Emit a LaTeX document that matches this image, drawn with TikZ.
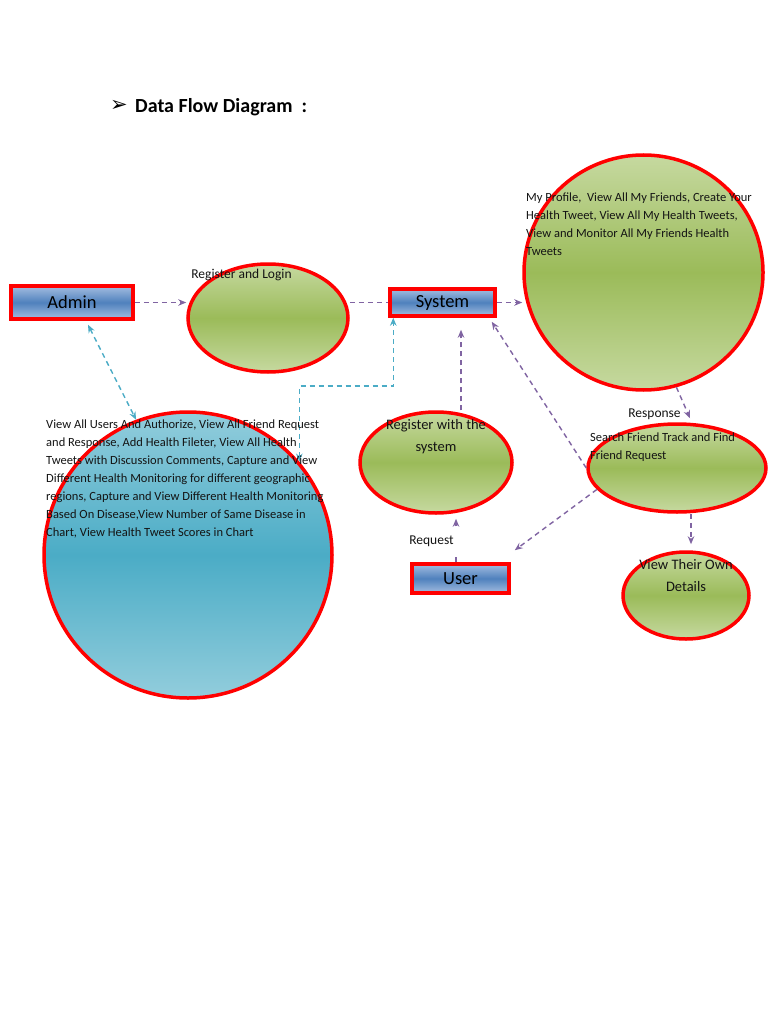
\documentclass[tikz,border=0pt]{standalone}
\usepackage{fontspec}
\setmainfont{Carlito}
\newfontfamily\symfont{DejaVu Sans}
\usetikzlibrary{shapes.geometric,arrows.meta,calc,shadows}
\definecolor{redb}{HTML}{FF0000}
\definecolor{gLight}{HTML}{C6D9A0}
\definecolor{gMid}{HTML}{9BBB59}
\definecolor{bLight}{HTML}{92CDDC}
\definecolor{bMid}{HTML}{4BACC6}
\definecolor{rLight}{HTML}{A4BDE0}
\definecolor{rMid}{HTML}{4F81BD}
\definecolor{purp}{HTML}{8064A2}
\definecolor{cyanl}{HTML}{4BACC6}
\definecolor{shadowc}{HTML}{243F60}
\tikzset{
  entity/.style={draw=redb, line width=3.5pt, top color=rLight, bottom color=rLight, middle color=rMid,
    font=\fontsize{18.5}{22}\selectfont, inner sep=0pt,
    drop shadow={shadow xshift=1.5pt, shadow yshift=-1.5pt, fill=shadowc, opacity=1}},
  gproc/.style={ellipse, draw=redb, line width=3.5pt, top color=gLight, bottom color=gLight, middle color=gMid, inner sep=0pt},
  bproc/.style={ellipse, draw=redb, line width=3.5pt, top color=bLight, bottom color=bLight, middle color=bMid, inner sep=0pt},
  flowp/.style={draw=purp, line width=1.4pt, dash pattern=on 5pt off 4pt, -{Stealth[length=8pt,width=6.5pt]}},
  flowc/.style={draw=cyanl, line width=1.4pt, dash pattern=on 5pt off 4pt, {Stealth[length=8pt,width=6.5pt]}-{Stealth[length=8pt,width=6.5pt]}},
  body/.style={font=\fontsize{12.5}{18}\selectfont, inner sep=0pt, align=left, text=black!92},
  lbl/.style={font=\fontsize{13.5}{16}\selectfont, inner sep=0pt, text=black!92},
  ptxt/.style={font=\fontsize{14.5}{22}\selectfont, inner sep=0pt, align=center, text=black!92}
}
\begin{document}
\begin{tikzpicture}[x=1pt,y=-1pt]
\path[fill=white, use as bounding box] (0,0) rectangle (768,1024);

% title
\node[font=\symfont\fontsize{21}{24}\selectfont, anchor=base west, inner sep=0pt] (bullet) at (110,112) {➢};
\node[font=\fontsize{20}{24}\selectfont\bfseries, anchor=base west, inner sep=0pt] (title) at (135,112.5) {Data Flow Diagram\ \ :};

% shapes
\node[entity, minimum width=122pt, minimum height=33pt] (admin) at (72,302.5) {Admin};
\node[entity, minimum width=105pt, minimum height=27pt] (system) at (442.5,302.5) {System};
\node[entity, minimum width=97pt, minimum height=29pt] (user) at (460.5,578.5) {User};
\node[gproc, minimum width=160pt, minimum height=108pt] (reglogin) at (268,318) {};
\node[gproc, minimum width=239pt, minimum height=235pt] (bigg) at (643.5,272.5) {};
\node[bproc, minimum width=288pt, minimum height=286pt] (bluec) at (188,555) {};
\node[gproc, minimum width=152pt, minimum height=101pt] (regsys) at (436,462.5) {};
\node[gproc, minimum width=178pt, minimum height=88pt] (search) at (677,468) {};
\node[gproc, minimum width=126pt, minimum height=87pt] (viewown) at (686,595.5) {};

% connectors
\draw[flowp] (admin.east) -- (admin.east -| reglogin.west);
\draw[flowp, -] (system.west -| reglogin.east) -- (system.west);
\draw[flowp] (system.east) -- (system.east -| bigg.west);
\draw[flowc] ($(admin.south)+(16,4)$) -- (bluec.111);
\coordinate (cc) at ($(system.south west)+(5,0)$);
\coordinate (bend) at (cc |- 0,386);
\draw[flowc] (bluec.40) |- (bend) -- (cc);
\draw[flowp] ($(regsys.north)+(25,0)$) -- ($(system.south)+(18.5,12)$);
\draw[flowp] ($(user.north)+(-4.5,0)$) -- ($(regsys.south)+(20,4)$);
\draw[flowp] (search.west) -- ($(system.south east)+(-5,4)$);
\draw[flowp] (search.195) -- ($(user.north east)+(4,-12)$);
\draw[flowp] (bigg.-74) -- ($(search.north)+(13,-4)$);
\draw[flowp] ($(search.south)+(14,0)$) -- ($(viewown.north)+(5,-6)$);

% texts
\node[lbl, anchor=base] (lreglogin) at (241.5,278.5) {Register and Login};
\node[body, anchor=north west] (tbigg) at (526,193) {My Profile,\ \ View All My Friends, Create Your\\Health Tweet, View All My Health Tweets,\\View and Monitor All My Friends Health\\Tweets};
\node[body, anchor=north west] (tbluec) at (46,420) {View All Users And Authorize, View All Friend Request\\and Response, Add Health Fileter, View All Health\\Tweets with Discussion Comments, Capture and View\\Different Health Monitoring for different geographic\\regions, Capture and View Different Health Monitoring\\Based On Disease,View Number of Same Disease in\\Chart, View Health Tweet Scores in Chart};
\node[body, anchor=north west] (tsearch) at (590,433) {Search Friend Track and Find\\Friend Request};
\node[ptxt, anchor=north] (tregsys) at (436,419) {Register with the\\system};
\node[ptxt, anchor=north] (tviewown) at (686,559) {View Their Own\\Details};
\node[lbl, anchor=base] (lresp) at (654.5,417.5) {Response};
\node[lbl, anchor=base, fill=white, inner xsep=4pt, inner ysep=9pt] (lreq) at (431.5,544.5) {Request};
\end{tikzpicture}
\end{document}
